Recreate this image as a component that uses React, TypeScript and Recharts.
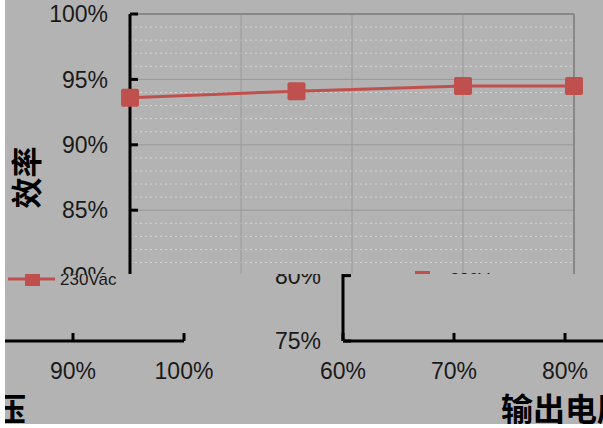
import {
  CartesianGrid,
  Label,
  Legend,
  Line,
  LineChart,
  ReferenceLine,
  XAxis,
  YAxis,
} from 'recharts'

// load points and measured efficiency
const loadLevels = [0.6, 0.75, 0.9, 1.0]
const efficiency = [0.936, 0.941, 0.945, 0.945]
const seriesName = '230Vac'

const xTicks = [0.6, 0.7, 0.8, 0.9, 1.0]
const yTicks = [0.75, 0.8, 0.85, 0.9, 0.95, 1.0]
const yMinor = [
  0.76, 0.77, 0.78, 0.79, 0.81, 0.82, 0.83, 0.84, 0.86, 0.87, 0.88, 0.89,
  0.91, 0.92, 0.93, 0.94, 0.96, 0.97, 0.98, 0.99,
]
const xMajor = [0.7, 0.8, 0.9]
const yMajor = [0.8, 0.85, 0.9, 0.95]

const chartData = loadLevels.map((load, i) => ({ load, eff: efficiency[i] }))

const RED = '#c0504d'
const BG = '#b3b3b3'
const TEXT = '#1a1a1a'
const pct = (v: number) => `${Math.round(v * 100)}%`

// the picture is torn: rows below CUT are shifted right by SHIFT and wrap around
const CUT = 274
const SHIFT = 213

function SquareDot(props: any) {
  const { cx, cy, index } = props
  if (cx == null || cy == null) return null
  return <rect key={index} x={cx - 9} y={cy - 9} width={18} height={18} rx={2} fill={RED} />
}

function LegendBox() {
  return (
    <svg width={130} height={20} style={{ display: 'block' }}>
      <line x1={0} y1={10} x2={47} y2={10} stroke={RED} strokeWidth={3} />
      <rect x={17} y={2} width={15} height={15} fill={RED} />
      <text x={52} y={16} fontSize={17} fill={TEXT} fontFamily="Liberation Sans, Arial, sans-serif">
        {seriesName}
      </text>
    </svg>
  )
}

type Mode = 'full' | 'grid' | 'axes'

function EffChart({ mode }: { mode: Mode }) {
  const showAxes = mode !== 'grid'
  const minorStroke = mode === 'full' ? '#d4d4d4' : 'none'
  const majorStroke = mode === 'axes' ? 'none' : '#999'
  const borderStroke = mode === 'axes' ? 'none' : '#888'
  const axisStroke = showAxes ? { stroke: '#000', strokeWidth: 3 } : false
  const tickStyle = showAxes ? { fill: TEXT, fontSize: 23 } : false
  return (
    <LineChart
      width={603}
      height={428}
      data={chartData}
      margin={{ top: 14, right: 29, left: 0, bottom: 0 }}
      style={{
        fontFamily: 'Liberation Sans, Arial, sans-serif',
        background: mode === 'grid' ? 'transparent' : BG,
      }}
    >
      <CartesianGrid
        vertical={false}
        horizontalValues={yMinor}
        stroke={minorStroke}
        strokeDasharray="2 3"
      />
      <CartesianGrid
        horizontal={mode === 'full'}
        horizontalValues={yMajor}
        verticalValues={xMajor}
        stroke={majorStroke}
      />
      <ReferenceLine y={1} stroke={mode === 'full' ? '#888' : 'none'} strokeWidth={2} />
      <ReferenceLine x={1} stroke={borderStroke} strokeWidth={2} />
      <XAxis
        type="number"
        dataKey="load"
        domain={[0.6, 1]}
        ticks={xTicks}
        interval={0}
        tickFormatter={pct}
        height={87}
        axisLine={axisStroke}
        tickLine={axisStroke}
        tickSize={-8}
        tickMargin={30}
        tick={tickStyle}
      >
        {showAxes && (
          <Label
            value="输出电压"
            position="insideBottom"
            offset={7}
            style={{ fontSize: 32, fontWeight: 700, fill: '#000', fontFamily: 'Noto Sans CJK SC' }}
          />
        )}
      </XAxis>
      <YAxis
        type="number"
        domain={[0.75, 1]}
        ticks={yTicks}
        interval={0}
        tickFormatter={pct}
        width={130}
        axisLine={axisStroke}
        tickLine={axisStroke}
        tickSize={-8}
        tickMargin={30}
        tick={tickStyle}
      >
        {showAxes && (
          <Label
            value="效率"
            angle={-90}
            position="insideLeft"
            offset={27}
            style={{
              fontSize: 31,
              fontWeight: 700,
              fill: '#000',
              textAnchor: 'middle',
              fontFamily: 'Noto Sans CJK SC',
            }}
          />
        )}
      </YAxis>
      {showAxes && (
        <Legend
          layout="vertical"
          align="center"
          verticalAlign="middle"
          content={() => <LegendBox />}
          wrapperStyle={{ left: 398, top: 269, width: 130 }}
        />
      )}
      {showAxes && (
        <Line
          type="linear"
          dataKey="eff"
          name={seriesName}
          stroke={RED}
          strokeWidth={3}
          dot={<SquareDot />}
          activeDot={false}
          isAnimationActive={false}
        />
      )}
    </LineChart>
  )
}

export default function App() {
  const layer = (mode: Mode, left: number, clip: string) => (
    <div style={{ position: 'absolute', left, top: 0, width: 603, height: 428, clipPath: clip }}>
      <EffChart mode={mode} />
    </div>
  )
  const above = `inset(0 0 ${428 - CUT}px 0)`
  const below = `inset(${CUT}px 0 0 0)`
  return (
    <div
      style={{
        position: 'absolute',
        left: 0,
        top: 0,
        width: 603,
        height: 428,
        overflow: 'hidden',
        background: BG,
      }}
    >
      {layer('full', 0, above)}
      {layer('axes', SHIFT, below)}
      {layer('axes', SHIFT - 603, below)}
      {layer('grid', 0, below)}
      <div style={{ position: 'absolute', left: 0, top: 0, width: 5, height: 428, background: '#fff' }} />
      <div style={{ position: 'absolute', left: 0, top: 424, width: 603, height: 4, background: '#fff' }} />
    </div>
  )
}
